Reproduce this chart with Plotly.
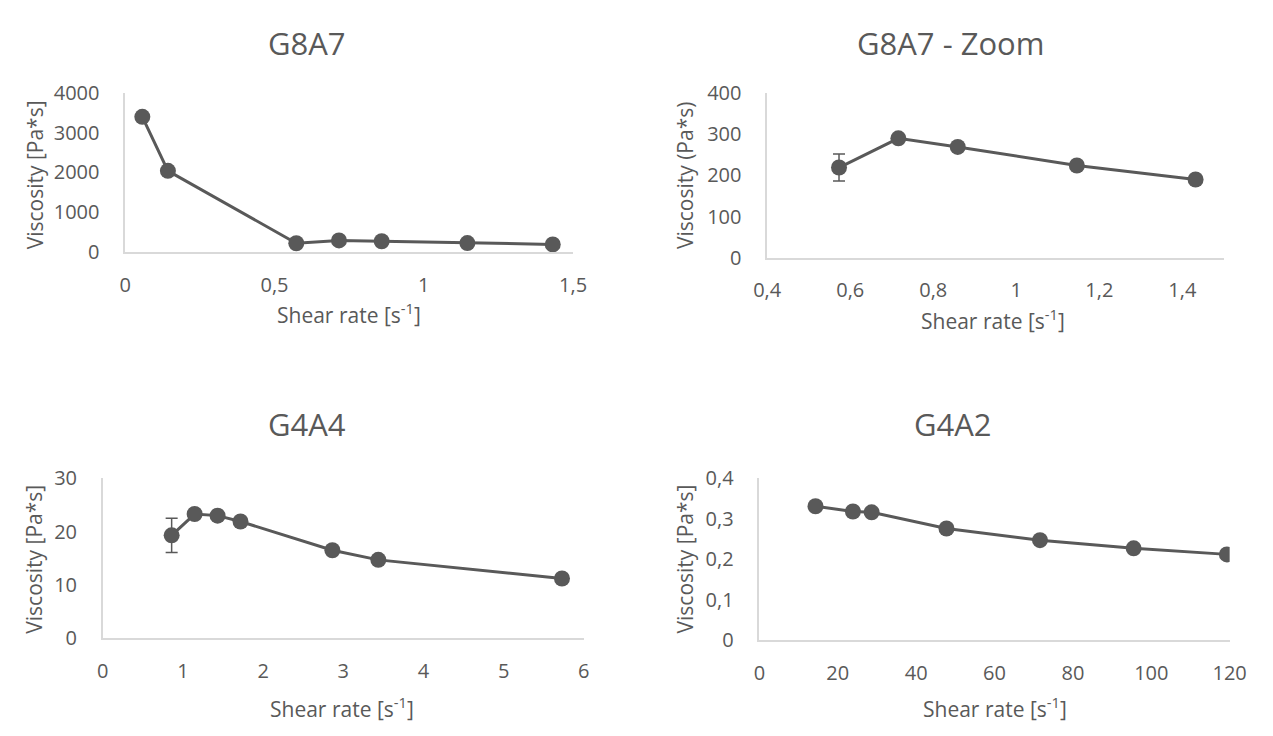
import plotly.graph_objects as go

W, H = 1273, 736

# ---------------- data ----------------
shear_g8a7 = [0.0573, 0.143, 0.573, 0.716, 0.859, 1.146, 1.432]
visc_g8a7 = [3400, 2040, 219, 290, 269, 224, 190]
err_g8a7 = [0, 0, 33, 0, 0, 0, 0]

shear_g8a7_zoom = [0.573, 0.716, 0.859, 1.146, 1.432]
visc_g8a7_zoom = [219, 290, 269, 224, 190]
err_g8a7_zoom = [33, 0, 0, 0, 0]

shear_g4a4 = [0.859, 1.146, 1.432, 1.718, 2.864, 3.437, 5.728]
visc_g4a4 = [19.3, 23.3, 23.0, 21.9, 16.5, 14.7, 11.2]
err_g4a4 = [3.2, 0, 0, 0, 0, 0, 0]

shear_g4a2 = [14.32, 23.87, 28.64, 47.74, 71.6, 95.5, 119.3]
visc_g4a2 = [0.331, 0.318, 0.316, 0.276, 0.247, 0.227, 0.212]

titles = ["G8A7", "G8A7 - Zoom", "G4A4", "G4A2"]
x_title = "Shear rate [s<sup>-1</sup>]"
y_titles = ["Viscosity [Pa*s]", "Viscosity (Pa*s)", "Viscosity [Pa*s]", "Viscosity [Pa*s]"]

x1_ticks = [0, 0.5, 1, 1.5]
x1_text = ["0", "0,5", "1", "1,5"]
y1_ticks = [0, 1000, 2000, 3000, 4000]
y1_text = ["0", "1000", "2000", "3000", "4000"]

x2_ticks = [0.4, 0.6, 0.8, 1.0, 1.2, 1.4]
x2_text = ["0,4", "0,6", "0,8", "1", "1,2", "1,4"]
y2_ticks = [0, 100, 200, 300, 400]
y2_text = ["0", "100", "200", "300", "400"]

x3_ticks = [0, 1, 2, 3, 4, 5, 6]
x3_text = ["0", "1", "2", "3", "4", "5", "6"]
y3_ticks = [0, 10, 20, 30]
y3_text = ["0", "10", "20", "30"]

x4_ticks = [0, 20, 40, 60, 80, 100, 120]
x4_text = ["0", "20", "40", "60", "80", "100", "120"]
y4_ticks = [0, 0.1, 0.2, 0.3, 0.4]
y4_text = ["0", "0,1", "0,2", "0,3", "0,4"]

# ---------------- style ----------------
TEXT = "#595959"
MARK = "#595959"
AXLINE = "#d9d9d9"
FONT = "Open Sans"

def px_x(p):
    return p / W

def px_y(p):
    return 1 - p / H

# layout in pixels: (x_left, x_right, y_top, y_bottom)
boxes = [
    (114, 573, 82, 247),
    (772, 1240, 82, 253),
    (91, 584, 482, 648),
    (764, 1246, 482, 650),
]
xranges = [[0, 1.5], [0.4, 1.5], [0, 6], [0, 120]]
yranges = [[0, 4000], [0, 400], [0, 30], [0, 0.4]]
xticks = [(x1_ticks, x1_text), (x2_ticks, x2_text), (x3_ticks, x3_text), (x4_ticks, x4_text)]
yticks = [(y1_ticks, y1_text), (y2_ticks, y2_text), (y3_ticks, y3_text), (y4_ticks, y4_text)]

series = [
    (shear_g8a7, visc_g8a7, err_g8a7),
    (shear_g8a7_zoom, visc_g8a7_zoom, err_g8a7_zoom),
    (shear_g4a4, visc_g4a4, err_g4a4),
    (shear_g4a2, visc_g4a2, None),
]

fig = go.Figure()
for i, (xs, ys, es) in enumerate(series):
    n = "" if i == 0 else str(i + 1)
    kw = {}
    if es is not None:
        kw["error_y"] = dict(type="data", array=es, visible=True, color=MARK,
                             thickness=1.5, width=6)
    fig.add_trace(go.Scatter(
        x=xs, y=ys, mode="lines+markers",
        line=dict(color=MARK, width=3),
        marker=dict(color=MARK, size=16),
        xaxis="x" + n, yaxis="y" + n,
        showlegend=False, hoverinfo="x+y", **kw))

layout = dict(
    width=W, height=H,
    margin=dict(l=0, r=0, t=0, b=0),
    paper_bgcolor="white", plot_bgcolor="white",
    font=dict(family=FONT, color=TEXT, size=20),
    showlegend=False,
)

annotations = []
title_pos = [(300, 30), (960, 30), (300, 426), (962, 426)]
xtitle_pos = [(343, 311), (1003, 317), (336, 720), (1005, 720)]
ytitle_pos = [(21, 167), (688, 167), (21, 566), (688, 566)]

for i in range(4):
    n = "" if i == 0 else str(i + 1)
    xl, xr, yt, yb = boxes[i]
    layout["xaxis" + n] = dict(
        domain=[px_x(xl), px_x(xr)], range=xranges[i],
        anchor="y" + n,
        tickmode="array", tickvals=xticks[i][0], ticktext=xticks[i][1],
        showline=True, linecolor=AXLINE, linewidth=1.5,
        showgrid=False, zeroline=False, ticks="",
        ticklabelstandoff=14,
        tickfont=dict(size=20, color=TEXT, family=FONT),
        fixedrange=True,
    )
    layout["yaxis" + n] = dict(
        domain=[px_y(yb), px_y(yt)], range=yranges[i],
        anchor="x" + n,
        tickmode="array", tickvals=yticks[i][0], ticktext=yticks[i][1],
        showline=True, linecolor=AXLINE, linewidth=1.5,
        showgrid=False, zeroline=False, ticks="",
        ticklabelstandoff=20,
        tickfont=dict(size=20, color=TEXT, family=FONT),
        fixedrange=True,
    )
    tx, ty = title_pos[i]
    annotations.append(dict(text=titles[i], x=px_x(tx), y=px_y(ty), xref="paper", yref="paper",
                            showarrow=False, xanchor="center", yanchor="middle",
                            font=dict(size=31, color=TEXT, family=FONT)))
    ax, ay = xtitle_pos[i]
    annotations.append(dict(text=x_title, x=px_x(ax), y=px_y(ay), xref="paper", yref="paper",
                            showarrow=False, xanchor="center", yanchor="middle",
                            font=dict(size=21, color=TEXT, family=FONT)))
    yx, yy = ytitle_pos[i]
    annotations.append(dict(text=y_titles[i], x=px_x(yx), y=px_y(yy), xref="paper", yref="paper",
                            showarrow=False, xanchor="center", yanchor="middle", textangle=-90,
                            font=dict(size=21, color=TEXT, family=FONT)))

layout["annotations"] = annotations
fig.update_layout(**layout)
fig.write_html("out.html")
